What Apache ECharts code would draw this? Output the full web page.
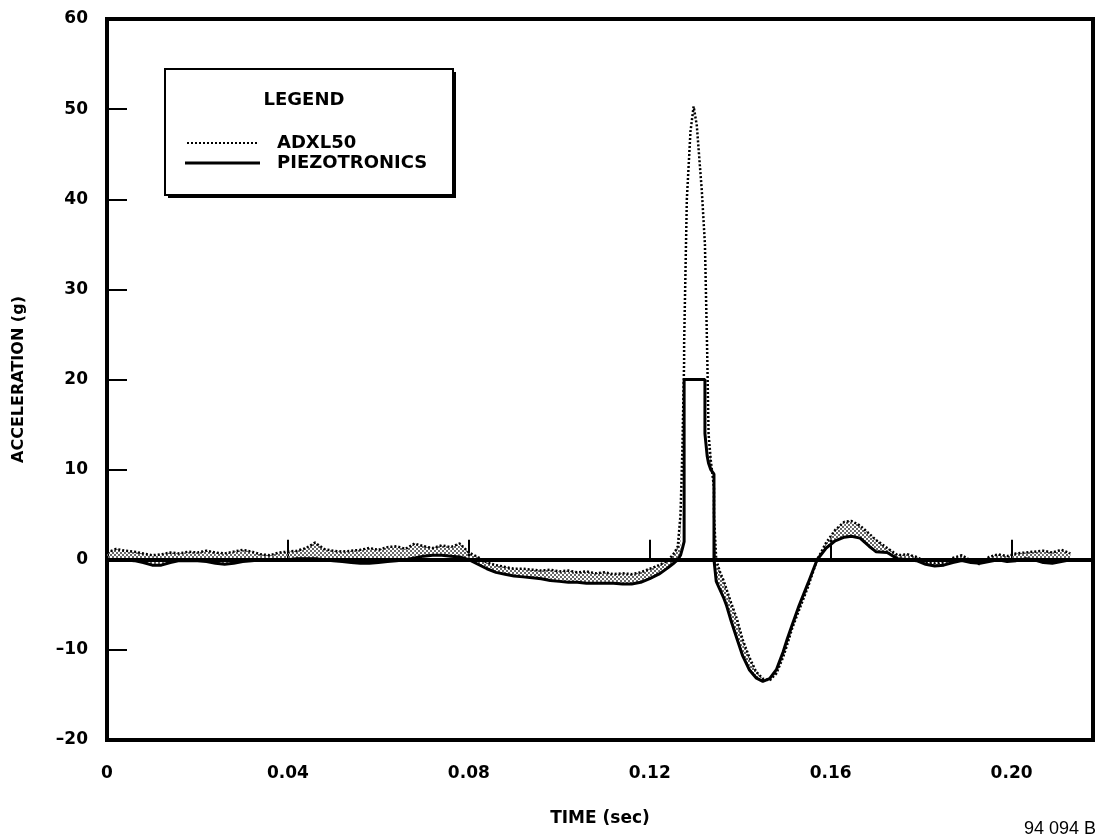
<!DOCTYPE html>
<html>
<head>
<meta charset="utf-8">
<script src="https://cdn.jsdelivr.net/npm/echarts@6/dist/echarts.min.js"></script>
<style>
  html, body { margin: 0; padding: 0; background: #fff; }
  #accelChart { width: 1095px; height: 835px; }
</style>
</head>
<body>
<div id="accelChart"></div>
<script>
// time axis shared by both traces (sec)
const timeSec = [
    0, 0.002, 0.004, 0.006, 0.008, 0.010, 0.012, 0.014, 0.016, 0.018,
    0.020, 0.022, 0.024, 0.026, 0.028, 0.030, 0.032, 0.034, 0.036, 0.038,
    0.040, 0.042, 0.044, 0.046, 0.048, 0.050, 0.052, 0.054, 0.056, 0.058,
    0.060, 0.062, 0.064, 0.066, 0.068, 0.070, 0.072, 0.074, 0.076, 0.078,
    0.080, 0.082, 0.084, 0.086, 0.088, 0.090, 0.092, 0.094, 0.096, 0.098,
    0.100, 0.102, 0.104, 0.106, 0.108, 0.110, 0.112, 0.114, 0.116, 0.118,
    0.120, 0.122, 0.124, 0.1255, 0.1262, 0.1268, 0.1272, 0.1276, 0.1276, 0.1282,
    0.1290, 0.1297, 0.1304, 0.1315, 0.1322, 0.1322, 0.1327, 0.1330, 0.1335, 0.1342,
    0.1342, 0.1347, 0.1355, 0.1364, 0.1370, 0.1380, 0.1393, 0.1405, 0.1420, 0.1435,
    0.1450, 0.1465, 0.1480, 0.1495, 0.1504, 0.1515, 0.1530, 0.1550, 0.1570, 0.1590,
    0.1610, 0.1630, 0.1646, 0.1665, 0.1685, 0.1700, 0.1725, 0.1748, 0.1770, 0.1790,
    0.1810, 0.1830, 0.1850, 0.1870, 0.1890, 0.1910, 0.1930, 0.1950, 0.1970, 0.1990,
    0.2010, 0.2030, 0.2050, 0.2070, 0.2090, 0.2110, 0.2130
];

// PIEZOTRONICS (solid, clipped at 20 g)
const piezoG = [
    0, 0, 0, -0.1, -0.3, -0.6, -0.6, -0.3, -0.1, -0.1,
    -0.1, -0.2, -0.4, -0.5, -0.4, -0.2, -0.1, 0, 0, 0,
    0, 0.1, 0.1, 0.1, 0, -0.1, -0.2, -0.3, -0.4, -0.4,
    -0.3, -0.2, -0.1, 0, 0.2, 0.4, 0.5, 0.5, 0.4, 0.3,
    0, -0.5, -1.0, -1.4, -1.6, -1.8, -1.9, -2.0, -2.1, -2.3,
    -2.4, -2.5, -2.5, -2.6, -2.6, -2.6, -2.6, -2.7, -2.7, -2.5,
    -2.1, -1.6, -0.9, -0.3, 0, 0.5, 1.2, 2, 20, 20,
    20, 20, 20, 20, 20, 14, 11.5, 10.7, 10, 9.5,
    0, -2.4, -3.3, -4.3, -5.1, -6.8, -8.8, -10.6, -12.2, -13.1,
    -13.5, -13.2, -12.2, -10.2, -8.8, -7.2, -5.1, -2.6, 0, 1.3,
    2.1, 2.5, 2.6, 2.4, 1.5, 0.9, 0.8, 0.1, 0, -0.1,
    -0.5, -0.7, -0.6, -0.3, -0.1, -0.3, -0.4, -0.2, 0, -0.2,
    -0.1, 0.1, 0, -0.3, -0.4, -0.2, 0
];

// ADXL50 (dotted)
const adxlG = [
    0.8, 1.2, 1.0, 0.9, 0.7, 0.5, 0.6, 0.8, 0.7, 0.9,
    0.8, 1.0, 0.8, 0.7, 0.9, 1.1, 0.9, 0.6, 0.5, 0.8,
    0.9, 1.0, 1.3, 1.9, 1.2, 1.0, 0.9, 1.0, 1.1, 1.3,
    1.1, 1.4, 1.5, 1.2, 1.8, 1.5, 1.3, 1.6, 1.4, 1.8,
    0.8, 0.3, -0.3, -0.6, -0.8, -1.0, -1.0, -1.1, -1.2, -1.1,
    -1.3, -1.2, -1.4, -1.3, -1.5, -1.4, -1.6, -1.5, -1.6, -1.4,
    -1.0, -0.6, -0.1, 0.8, 1.5, 5, 12, 22, 24, 40,
    47.5, 50.3, 48.2, 41, 35, 35, 23, 14, 11, 8,
    5, 0, -1.3, -2.4, -3.3, -4.8, -6.6, -8.8, -10.8, -12.4,
    -13.2, -13.4, -12.6, -10.8, -9.4, -7.6, -5.6, -3.0, 0, 1.9,
    3.3, 4.2, 4.3, 3.8, 2.9, 2.2, 1.3, 0.5, 0.6, 0.3,
    -0.2, -0.4, -0.3, 0.2, 0.5, -0.1, -0.5, 0.3, 0.6, 0.4,
    0.7, 0.8, 0.9, 1.0, 0.8, 1.1, 0.7
];

const xTicks = [0, 0.04, 0.08, 0.12, 0.16, 0.20];
const yTicks = [-20, -10, 0, 10, 20, 30, 40, 50, 60];

const FONT = 'DejaVu Sans';

function renderAccelChart() {
    const chart = echarts.init(document.getElementById('accelChart'), null, { renderer: 'canvas' });

    // halftone look for the noise band between the traces
    const dotCanvas = document.createElement('canvas');
    dotCanvas.width = 4;
    dotCanvas.height = 4;
    const ctx = dotCanvas.getContext('2d');
    ctx.fillStyle = '#666';
    ctx.fillRect(0, 0, 2, 2);
    ctx.fillRect(2, 2, 2, 2);
    const halftone = { image: dotCanvas, repeat: 'repeat' };

    const piezoData = timeSec.map((t, i) => [t, piezoG[i]]);
    const adxlData = timeSec.map((t, i) => [t, adxlG[i]]);

    // one quad per step between the two traces, skipped where the piezo is clipped
    let bandRows = [];
    for (let i = 0; i < timeSec.length - 1; i++) {
        const d0 = Math.abs(adxlG[i] - piezoG[i]);
        const d1 = Math.abs(adxlG[i + 1] - piezoG[i + 1]);
        if (d0 > 6 || d1 > 6) continue;
        bandRows.push([timeSec[i], timeSec[i + 1], adxlG[i], piezoG[i], adxlG[i + 1], piezoG[i + 1]]);
    }

    function renderBand(params, api) {
        const t0 = api.value(0), t1 = api.value(1);
        const pts = [
            api.coord([t0, api.value(2)]),
            api.coord([t1, api.value(4)]),
            api.coord([t1, api.value(5)]),
            api.coord([t0, api.value(3)])
        ];
        return {
            type: 'polygon',
            shape: { points: pts },
            style: { fill: halftone, stroke: null }
        };
    }

    const option = {
        backgroundColor: '#fff',
        animation: false,
        grid: {
            left: 107,
            right: 2,
            top: 19,
            bottom: 95,
            show: true,
            borderColor: '#000',
            borderWidth: 4
        },
        xAxis: {
            type: 'value',
            min: 0,
            max: 0.218,
            interval: 0.04,
            name: 'TIME (sec)',
            nameLocation: 'middle',
            nameGap: 70,
            nameTextStyle: { color: '#000', fontFamily: FONT, fontWeight: 'bold', fontSize: 17 },
            axisLine: { show: true, lineStyle: { color: '#000', width: 4 } },
            axisTick: { show: true, inside: true, length: 20, lineStyle: { color: '#000', width: 2 } },
            splitLine: { show: false },
            axisLabel: {
                color: '#000',
                fontFamily: FONT,
                fontWeight: 'bold',
                fontSize: 17,
                margin: 25,
                showMaxLabel: false,
                formatter: function (v) {
                    const hit = xTicks.find(x => Math.abs(x - v) < 1e-9);
                    if (hit === undefined) return '';
                    return hit === 0 ? '0' : hit.toFixed(2);
                }
            }
        },
        yAxis: {
            type: 'value',
            min: -20,
            max: 60,
            interval: 10,
            name: 'ACCELERATION (g)',
            nameLocation: 'middle',
            nameGap: 80,
            nameRotate: 90,
            nameTextStyle: { color: '#000', fontFamily: FONT, fontWeight: 'bold', fontSize: 16 },
            axisLine: { show: true, lineStyle: { color: '#000', width: 4 } },
            axisTick: { show: true, inside: true, length: 20, lineStyle: { color: '#000', width: 2 } },
            splitLine: { show: false },
            axisLabel: {
                color: '#000',
                fontFamily: FONT,
                fontWeight: 'bold',
                fontSize: 17,
                margin: 19,
                formatter: function (v) {
                    if (yTicks.indexOf(v) < 0) return '';
                    return v < 0 ? '\u2013' + Math.abs(v) : String(v);
                }
            }
        },
        series: [{
            name: 'band',
            type: 'custom',
            renderItem: renderBand,
            data: bandRows,
            encode: { x: [0, 1], y: [2, 3, 4, 5] },
            clip: true,
            silent: true,
            z: 1
        }, {
            name: 'ADXL50',
            type: 'line',
            data: adxlData,
            symbol: 'none',
            lineStyle: { color: '#000', width: 2.5, type: [2, 2] },
            z: 3
        }, {
            name: 'PIEZOTRONICS',
            type: 'line',
            data: piezoData,
            symbol: 'none',
            lineStyle: { color: '#000', width: 3 },
            z: 4,
            markLine: {
                silent: true,
                symbol: 'none',
                label: { show: false },
                lineStyle: { color: '#000', width: 4, type: 'solid' },
                data: [{ yAxis: 0 }]
            }
        }],
        graphic: [
            // legend box with drop shadow
            { type: 'rect', left: 168, top: 72, shape: { width: 288, height: 126 }, style: { fill: '#000' }, z: 10 },
            { type: 'rect', left: 164, top: 68, shape: { width: 288, height: 126 }, style: { fill: '#fff', stroke: '#000', lineWidth: 2 }, z: 11 },
            { type: 'text', x: 304, y: 100, style: { text: 'LEGEND', fill: '#000', font: 'bold 18px "DejaVu Sans"', align: 'center', verticalAlign: 'middle' }, z: 12 },
            { type: 'line', shape: { x1: 187, y1: 143, x2: 258, y2: 143 }, style: { stroke: '#000', lineWidth: 2, lineDash: [2, 2] }, z: 12 },
            { type: 'text', x: 277, y: 143, style: { text: 'ADXL50', fill: '#000', font: 'bold 18px "DejaVu Sans"', align: 'left', verticalAlign: 'middle' }, z: 12 },
            { type: 'line', shape: { x1: 185, y1: 163, x2: 260, y2: 163 }, style: { stroke: '#000', lineWidth: 3 }, z: 12 },
            { type: 'text', x: 277, y: 163, style: { text: 'PIEZOTRONICS', fill: '#000', font: 'bold 18px "DejaVu Sans"', align: 'left', verticalAlign: 'middle' }, z: 12 },
            // figure number in the corner
            { type: 'text', x: 1024, y: 820, style: { text: '94 094 B', fill: '#000', font: '18px "Liberation Sans"', align: 'left', verticalAlign: 'top' }, z: 12 }
        ]
    };

    chart.setOption(option);
}

renderAccelChart();
</script>
</body>
</html>
